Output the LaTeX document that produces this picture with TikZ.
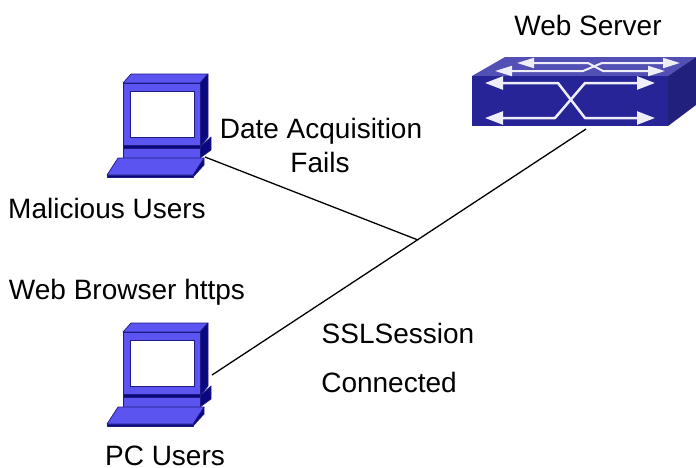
\documentclass[tikz,border=0pt]{standalone}
\usepackage{fontspec}
\setmainfont{Liberation Sans}
\usetikzlibrary{positioning, arrows.meta}
\definecolor{pcface}{RGB}{92,84,240}
\definecolor{pcside}{RGB}{10,8,128}
\definecolor{pcedge}{RGB}{30,26,130}
\definecolor{swfront}{RGB}{38,36,150}
\definecolor{swtop}{RGB}{82,80,180}
\definecolor{swside}{RGB}{34,32,125}
\definecolor{swflow}{RGB}{238,238,250}
\tikzset{
  label/.style={font=\fontsize{28}{32}\selectfont, inner sep=0pt},
  link/.style={line width=1.3pt, black},
  pcpart/.style={draw=pcedge, line width=0.7pt, line join=round, fill=pcface},
  pcdark/.style={pcpart, fill=pcside},
  flow/.style={draw=swflow, line width=2.5pt, line join=round, {Triangle[length=18pt, width=13pt]}-{Triangle[length=18pt, width=13pt]}},
  flowtop/.style={flow, line width=2pt, {Triangle[length=17pt, width=10pt]}-{Triangle[length=17pt, width=10pt]}},
  pics/computer/.style={code={
    \draw[pcpart] (0,0) -- (8,-9) -- (85,-9) -- (77,0) -- cycle;
    \draw[pcdark] (77,0) -- (85,-9) -- (85,54) -- (77,64) -- cycle;
    \draw[pcdark] (77,64) -- (88,54) -- (88,67) -- (77,75) -- cycle;
    \draw[pcpart] (0,0) rectangle (77,64);
    \draw[draw=pcedge, fill=white] (7,8) rectangle (71,54);
    \draw[pcdark] (0,62) -- (77,62) -- (77,66) -- (0,66) -- cycle;
    \draw[pcpart] (0,65) rectangle (77,75);
    \draw[pcdark] (81,75) -- (81,82) -- (70,94) -- (70,91) -- cycle;
    \draw[pcdark] (-16,92) rectangle (70,94);
    \draw[pcpart] (-5,75) -- (81,75) -- (70,92) -- (-16,92) -- cycle;
  }}
}
\begin{document}
\begin{tikzpicture}[x=1pt, y=-1pt]
  \useasboundingbox (0,0) rectangle (696,467);
  % computers
  \pic at (123,83) {computer};
  \pic at (123,332) {computer};
  \coordinate (malicious) at (205,157);
  \coordinate (pc) at (212,375);
  % switch
  \fill[swtop] (472,76) -- (505,57) -- (696,57) -- (668,76) -- cycle;
  \fill[swfront] (472,76) rectangle (668,126);
  \fill[swside] (668,76) -- (696,57) -- (696,105) -- (668,126) -- cycle;
  \draw[flowtop] (517,63) -- (588,63) -- (603,71) -- (665,71);
  \draw[flowtop] (495,71) -- (583,71) -- (602,63) -- (680,63);
  \draw[flow] (485,83) -- (558,83) -- (585,118) -- (655,118);
  \draw[flow] (485,118) -- (555,118) -- (585,83) -- (655,83);
  \coordinate (server) at (586,129);
  \coordinate (joint) at (418,240);
  % links
  \draw[link] (malicious) -- (joint);
  \draw[link] (pc) -- (server);
  % labels
  \node[label] (webserver) at (588,25) {Web Server};
  \node[label] (fails1) at (321,131) {Date Acquisition};
  \node[label] (fails2) at (320,162) {Fails};
  \node[label] (malname) at (107,208) {Malicious Users};
  \node[label] (browser) at (127,292) {Web Browser https};
  \node[label] (ssl) at (398,333) {SSLSession};
  \node[label] (conn) at (389,382) {Connected};
  \node[label] (pcname) at (165,456) {PC Users};
\end{tikzpicture}
\end{document}
